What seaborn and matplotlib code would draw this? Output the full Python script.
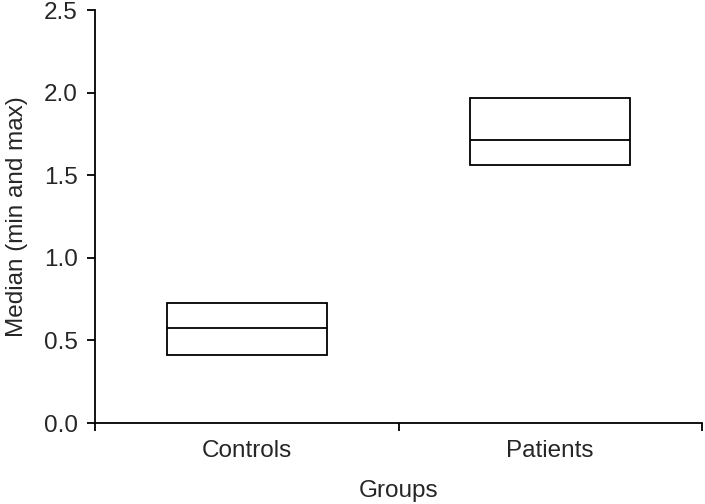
import numpy as np
import pandas as pd
import matplotlib
matplotlib.use('Agg')
import matplotlib.pyplot as plt
import seaborn as sns
from matplotlib.ticker import FixedLocator

# values
groups = ['Controls', 'Patients']
mins = [0.413, 1.562]
medians = [0.573, 1.715]
maxs = [0.725, 1.967]

# five points per group -> q1 = min, median = median, q3 = max
rows = []
for g, lo, md, hi in zip(groups, mins, medians, maxs):
    for v in [lo, lo, md, hi, hi]:
        rows.append({'Groups': g, 'value': v})
df = pd.DataFrame(rows)

sns.set_style('ticks')
plt.rcParams['font.family'] = ['Liberation Sans', 'DejaVu Sans']

fig = plt.figure(figsize=(7.05, 5.04), dpi=100)
ax = fig.add_axes([0.1348, 0.1607, 0.8609, 0.8193])

lw = 1.3
fs = 17.5
sns.boxplot(data=df, x='Groups', y='value', ax=ax, whis=0, width=0.527,
            showcaps=False, showfliers=False,
            boxprops={'facecolor': 'white', 'edgecolor': 'black', 'linewidth': lw},
            medianprops={'color': 'black', 'linewidth': lw},
            whiskerprops={'linewidth': 0})

ax.set_xlim(-0.5, 1.5)
ax.set_ylim(0, 2.5)
ax.set_yticks([0, 0.5, 1.0, 1.5, 2.0, 2.5])
ax.set_yticklabels(['0.0', '0.5', '1.0', '1.5', '2.0', '2.5'])
ax.xaxis.set_minor_locator(FixedLocator([-0.5, 0.5, 1.5]))

ax.tick_params(axis='x', which='major', length=0, pad=12.5, labelsize=fs)
ax.tick_params(axis='x', which='minor', length=5.5, width=lw, direction='out', color='black')
ax.tick_params(axis='y', length=5.5, width=lw, direction='out', pad=7, labelsize=fs, color='black')

for s in ['top', 'right']:
    ax.spines[s].set_visible(False)
for s in ['left', 'bottom']:
    ax.spines[s].set_linewidth(lw)
    ax.spines[s].set_color('black')

ax.set_xlabel('Groups', fontsize=fs, labelpad=13)
ax.set_ylabel('Median (min and max)', fontsize=fs, labelpad=11)

fig.savefig('out.png', dpi=100, facecolor='white')
